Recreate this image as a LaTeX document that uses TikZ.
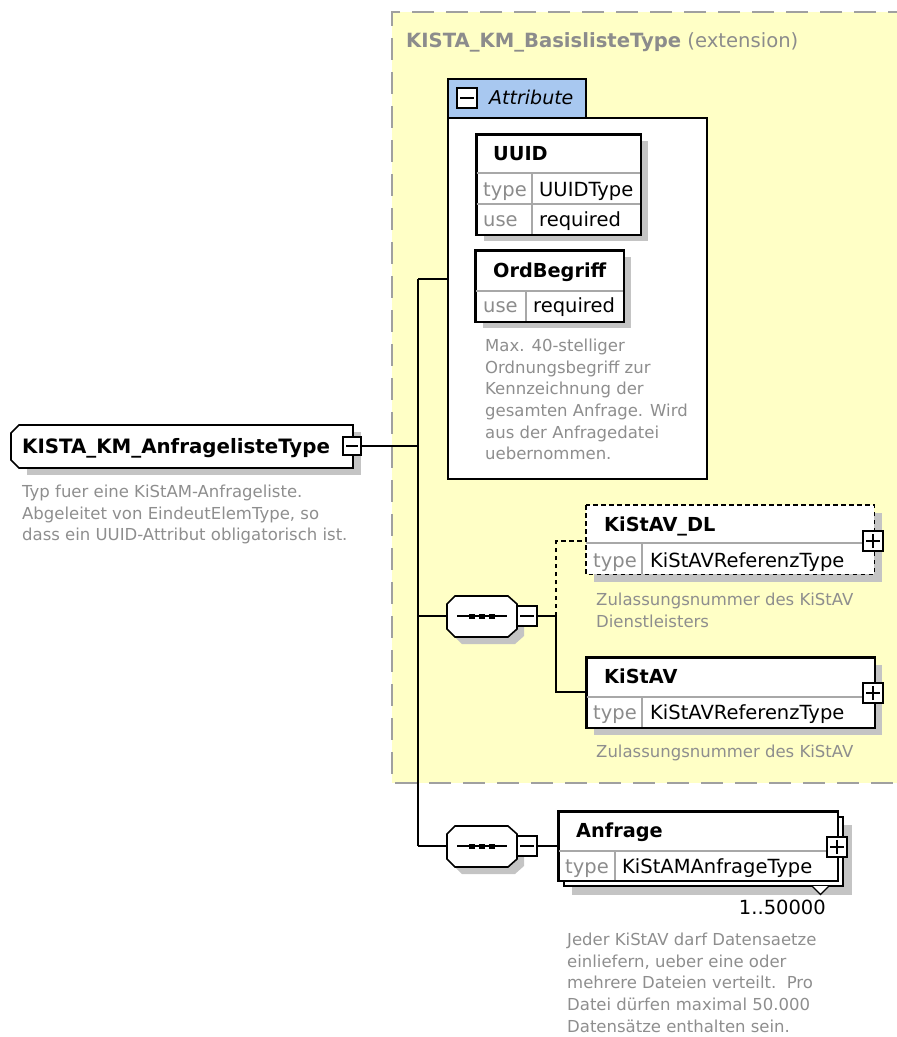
\documentclass[tikz,border=0pt]{standalone}
\usepackage{fontspec}
\setmainfont{DejaVu Sans}
\definecolor{extfill}{HTML}{FFFFC6}
\definecolor{extline}{HTML}{A0A0A0}
\definecolor{tabblue}{HTML}{A8C8F0}
\definecolor{shadowc}{HTML}{C4C4C4}
\definecolor{labelc}{HTML}{8C8C8C}
\definecolor{descc}{HTML}{8E8E8E}
\definecolor{innerc}{HTML}{A8A8A8}
\newcommand{\hdrfont}{\fontsize{19.3}{23}\selectfont\bfseries}
\newcommand{\cellfont}{\fontsize{19.5}{23}\selectfont}
\newcommand{\descfont}{\fontsize{16.5}{21.6}\selectfont}
\tikzset{
  x=1pt, y=-1pt,
  elem/.style={draw=black, line width=1.6pt, fill=white},
  inner/.style={draw=innerc, line width=1.1pt},
  conn/.style={draw=black, line width=1.6pt},
  shade/.style={fill=shadowc, draw=none},
  hdr/.style={font=\hdrfont, anchor=base west, inner sep=0pt},
  lbl/.style={font=\cellfont, text=labelc, anchor=base west, inner sep=0pt},
  val/.style={font=\cellfont, anchor=base west, inner sep=0pt},
  desc/.style={font=\descfont, text=descc, anchor=north west, inner sep=0pt, align=left},
  pmbox/.style={draw=black, line width=2pt, fill=white, inner sep=0pt,
    minimum width=20pt, minimum height=20pt},
  pmline/.style={line width=1.6pt},
  area/.style={inner sep=0pt, anchor=north west},
}
\begin{document}
\begin{tikzpicture}
\useasboundingbox (0,0) rectangle (897,1037);
\clip (0,0) rectangle (897,1037);

% extension area of the base type
\fill[extfill] (392,12) rectangle (910,783);
\draw[extline, line width=2pt, dash pattern=on 22pt off 12pt] (910,12) -- (392,12) -- (392,783) -- (910,783);
\node[anchor=base west, inner sep=0pt, text=labelc, font=\fontsize{19.6}{23}\selectfont] (exttitle) at (406,47)
  {\textbf{KISTA\_KM\_BasislisteType} (extension)};

% attribute group
\node[area, fill=tabblue, draw=black, line width=1.6pt, minimum width=138pt, minimum height=39pt] (attrtab) at (447,78) {};
\node[area, elem, minimum width=259pt, minimum height=361pt] (attr) at (447,117) {};
\node[pmbox] (attrpm) at (467,98) {};
\draw[pmline] ([xshift=4pt]attrpm.west) -- ([xshift=-4pt]attrpm.east);
\node[anchor=base west, inner sep=0pt, font=\fontsize{19}{23}\selectfont\itshape] (attrlbl) at (489,104) {Attribute};

% UUID attribute
\fill[shade] (484,141) rectangle (648,241);
\node[area, elem, minimum width=164pt, minimum height=100pt] (uuid) at (476,134) {};
\draw[inner] (476,173) -- (640,173) (476,204) -- (640,204) (532,173) -- (532,234);
\draw[line width=1.6pt] (uuid.north west) rectangle (uuid.south east);
\node[hdr] (uuidh) at (493,160) {UUID};
\node[lbl] (uuidt) at (483,196) {type};
\node[val] (uuidtv) at (539,196) {UUIDType};
\node[lbl] (uuidu) at (483,226) {use};
\node[val] (uuiduv) at (539,226) {required};

% OrdBegriff attribute
\fill[shade] (483,257) rectangle (631,328);
\node[area, elem, minimum width=148pt, minimum height=71pt] (ord) at (475,250) {};
\draw[inner] (475,291) -- (623,291) (526,291) -- (526,321);
\draw[line width=1.6pt] (ord.north west) rectangle (ord.south east);
\node[hdr] (ordh) at (493,277) {OrdBegriff};
\node[lbl] (ordu) at (483,312) {use};
\node[val] (orduv) at (533,312) {required};
\node[desc] (orddesc) at (485,339) {Max. 40-stelliger\\Ordnungsbegriff zur\\Kennzeichnung der\\gesamten Anfrage. Wird\\aus der Anfragedatei\\uebernommen.};

% root complex type
\fill[shade] (27,432) -- (361,432) -- (361,475) -- (27,475) -- cycle;
\node[area, minimum width=342pt, minimum height=43pt] (root) at (11,425) {};
\draw[elem] (19,425) -- (353,425) -- (353,468) -- (19,468) -- (11,460) -- (11,433) -- cycle;
\node[anchor=base west, inner sep=0pt, font=\fontsize{19.8}{23}\selectfont\bfseries] (rooth) at (22,453) {KISTA\_KM\_AnfragelisteType};
\node[pmbox, minimum width=18pt, minimum height=18pt] (rootpm) at (352,446) {};
\draw[pmline] ([xshift=4pt]rootpm.west) -- ([xshift=-4pt]rootpm.east);
\node[desc] (rootdesc) at (22,485) {Typ fuer eine KiStAM-Anfrageliste.\\Abgeleitet von EindeutElemType, so\\dass ein UUID-Attribut obligatorisch ist.};

% first sequence
\fill[shade] (462,603) -- (515,603) -- (524,611) -- (524,636) -- (515,644) -- (462,644) -- (454,636) -- (454,611) -- cycle;
\node[area, minimum width=70pt, minimum height=41pt] (seqa) at (447,596) {};
\draw[elem] (455,596) -- (508,596) -- (517,604) -- (517,629) -- (508,637) -- (455,637) -- (447,629) -- (447,604) -- cycle;
\draw[line width=1.4pt] (457,616) -- (507,616);
\foreach \d in {472,482,492} \fill (\d-3,613.5) rectangle (\d+3,619);
\node[pmbox] (seqapm) at (527,616) {};
\draw[pmline] ([xshift=4pt]seqapm.west) -- ([xshift=-4pt]seqapm.east);

% second sequence
\fill[shade] (462,833) -- (515,833) -- (524,841) -- (524,866) -- (515,874) -- (462,874) -- (454,866) -- (454,841) -- cycle;
\node[area, minimum width=70pt, minimum height=41pt] (seqb) at (447,826) {};
\draw[elem] (455,826) -- (508,826) -- (517,834) -- (517,859) -- (508,867) -- (455,867) -- (447,859) -- (447,834) -- cycle;
\draw[line width=1.4pt] (457,846) -- (507,846);
\foreach \d in {472,482,492} \fill (\d-3,843.5) rectangle (\d+3,849);
\node[pmbox] (seqbpm) at (527,846) {};
\draw[pmline] ([xshift=4pt]seqbpm.west) -- ([xshift=-4pt]seqbpm.east);

% KiStAV_DL (optional element)
\fill[shade] (594,513) rectangle (882,582);
\node[area, fill=white, minimum width=288pt, minimum height=69pt] (dl) at (586,505) {};
\draw[inner] (586,543) -- (874,543) (642,543) -- (642,574);
\draw[line width=1.6pt, dash pattern=on 4.5pt off 3.5pt] (dl.north west) rectangle (dl.south east);
\node[hdr] (dlh) at (604,531) {KiStAV\_DL};
\node[lbl] (dlt) at (593,567) {type};
\node[val] (dltv) at (650,567) {KiStAVReferenzType};
\node[pmbox] (dlpm) at (873,541) {};
\draw[pmline] ([xshift=4pt]dlpm.west) -- ([xshift=-4pt]dlpm.east) ([yshift=4pt]dlpm.south) -- ([yshift=-4pt]dlpm.north);
\node[desc] (dldesc) at (596,593) {Zulassungsnummer des KiStAV\\Dienstleisters};

% KiStAV
\fill[shade] (594,665) rectangle (882,735);
\node[area, elem, minimum width=288pt, minimum height=70pt] (av) at (586,657) {};
\draw[inner] (586,697) -- (874,697) (642,697) -- (642,727);
\draw[line width=1.6pt] (av.north west) rectangle (av.south east);
\node[hdr] (avh) at (604,683) {KiStAV};
\node[lbl] (avt) at (593,719) {type};
\node[val] (avtv) at (650,719) {KiStAVReferenzType};
\node[pmbox] (avpm) at (873,693) {};
\draw[pmline] ([xshift=4pt]avpm.west) -- ([xshift=-4pt]avpm.east) ([yshift=4pt]avpm.south) -- ([yshift=-4pt]avpm.north);
\node[desc] (avdesc) at (596,745) {Zulassungsnummer des KiStAV};

% Anfrage (repeated element)
\fill[shade] (572,825) rectangle (852,895);
\draw[elem] (564,817) rectangle (843,886);
\node[area, elem, minimum width=279pt, minimum height=69pt] (anf) at (558,811) {};
\draw[inner] (558,851) -- (837,851) (615,851) -- (615,880);
\draw[line width=1.6pt] (anf.north west) rectangle (anf.south east);
\node[hdr] (anfh) at (576,837) {Anfrage};
\node[lbl] (anft) at (565,873) {type};
\node[val] (anftv) at (622,873) {KiStAMAnfrageType};
\node[pmbox] (anfpm) at (837,847) {};
\draw[pmline] ([xshift=4pt]anfpm.west) -- ([xshift=-4pt]anfpm.east) ([yshift=4pt]anfpm.south) -- ([yshift=-4pt]anfpm.north);
\draw[fill=white, line width=1.2pt] (812,886) -- (820.5,894.5) -- (829,886);
\node[anchor=base east, inner sep=0pt, font=\cellfont] (anfocc) at (826,914) {1..50000};
\node[desc] (anfdesc) at (567,933) {Jeder KiStAV darf Datensaetze\\einliefern, ueber eine oder\\mehrere Dateien verteilt.\ \ Pro\\Datei dürfen maximal 50.000\\Datensätze enthalten sein.};

% connectors
\coordinate (jattr) at (418,279);
\coordinate (jroot) at (418,446);
\coordinate (jseqa) at (418,616);
\coordinate (jseqb) at (418,846);
\coordinate (fork) at (556,616);
\draw[conn] (rootpm.east) -- (jroot);
\draw[conn] (jattr) -- (jseqb);
\draw[conn] (jattr) -- (jattr -| attr.west);
\draw[conn] (jseqa) -- (jseqa -| seqa.west);
\draw[conn] (jseqb) -- (jseqb -| seqb.west);
\draw[conn] (seqapm.east |- fork) -- (fork);
\draw[conn, dash pattern=on 4.5pt off 3.5pt] (fork) |- (dl.west |- dlpm.center);
\draw[conn] (fork) |- (av.west |- 0,692);
\draw[conn] (seqbpm.east |- jseqb) -- (anf.west |- jseqb);
\end{tikzpicture}
\end{document}
